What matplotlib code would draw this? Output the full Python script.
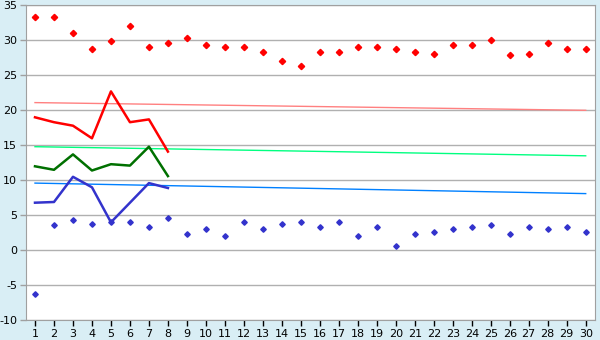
import matplotlib.pyplot as plt
import numpy as np

plt.rcParams['axes.unicode_minus'] = False

days = np.arange(1, 31)

# scattered points, one per day
red_pts = [33.3, 33.3, 31.0, 28.7, 29.9, 32.0, 29.1, 29.6, 30.4, 29.4,
           29.0, 29.0, 28.3, 27.1, 26.3, 28.4, 28.3, 29.0, 29.1, 28.7,
           28.4, 28.1, 29.4, 29.3, 30.0, 27.9, 28.0, 29.6, 28.7, 28.7]
blue_pts = [-6.3, 3.6, 4.4, 3.7, 4.0, 4.1, 3.4, 4.6, 2.4, 3.0,
            2.1, 4.0, 3.0, 3.7, 4.0, 3.4, 4.0, 2.0, 3.4, 0.6,
            2.3, 2.6, 3.0, 3.3, 3.6, 2.3, 3.4, 3.0, 3.4, 2.6]

# lines for the first 8 days
line_days = days[:8]
red_line = [19.0, 18.3, 17.8, 16.0, 22.7, 18.3, 18.7, 14.1]
green_line = [12.0, 11.5, 13.7, 11.4, 12.3, 12.1, 14.8, 10.6]
blue_line = [6.8, 6.9, 10.5, 9.0, 4.0, 6.8, 9.6, 8.9]

# trend lines, value at day 1 and day 30
trend_days = [1, 30]
red_trend = [21.1, 20.0]
green_trend = [14.8, 13.5]
blue_trend = [9.6, 8.1]

bg = '#d9eef5'
fig = plt.figure(figsize=(6, 3.4), dpi=100, facecolor=bg)
ax = fig.add_axes([25.5/600, 1-320.3/340, (595.2-25.5)/600, (320.3-5.3)/340])
ax.set_facecolor('white')

ax.set_xlim(0.5, 30.5)
ax.set_ylim(-10, 35)
ax.set_yticks(range(-10, 36, 5))
ax.set_xticks(days)
ax.grid(axis='y', color='#b0b0b0', lw=1)
ax.set_axisbelow(True)

ax.plot(trend_days, red_trend, color='#ff8080', lw=1)
ax.plot(trend_days, green_trend, color='#00ff80', lw=1)
ax.plot(trend_days, blue_trend, color='#0080ff', lw=1)

ax.plot(line_days, red_line, color='#ff0000', lw=1.8)
ax.plot(line_days, green_line, color='#007000', lw=1.8)
ax.plot(line_days, blue_line, color='#3333cc', lw=1.8)

ax.plot(days, red_pts, 'D', color='#ff0000', ms=3.2, ls='none')
ax.plot(days, blue_pts, 'D', color='#3333cc', ms=2.8, ls='none')

for s in ax.spines.values():
    s.set_color('#a0a0a0')
ax.tick_params(colors='black', labelsize=8, length=4, width=1, pad=2)
ax.tick_params(axis='x', color='black')
ax.tick_params(axis='y', color='#a0a0a0')

fig.savefig('out.png', dpi=100, facecolor=bg)
